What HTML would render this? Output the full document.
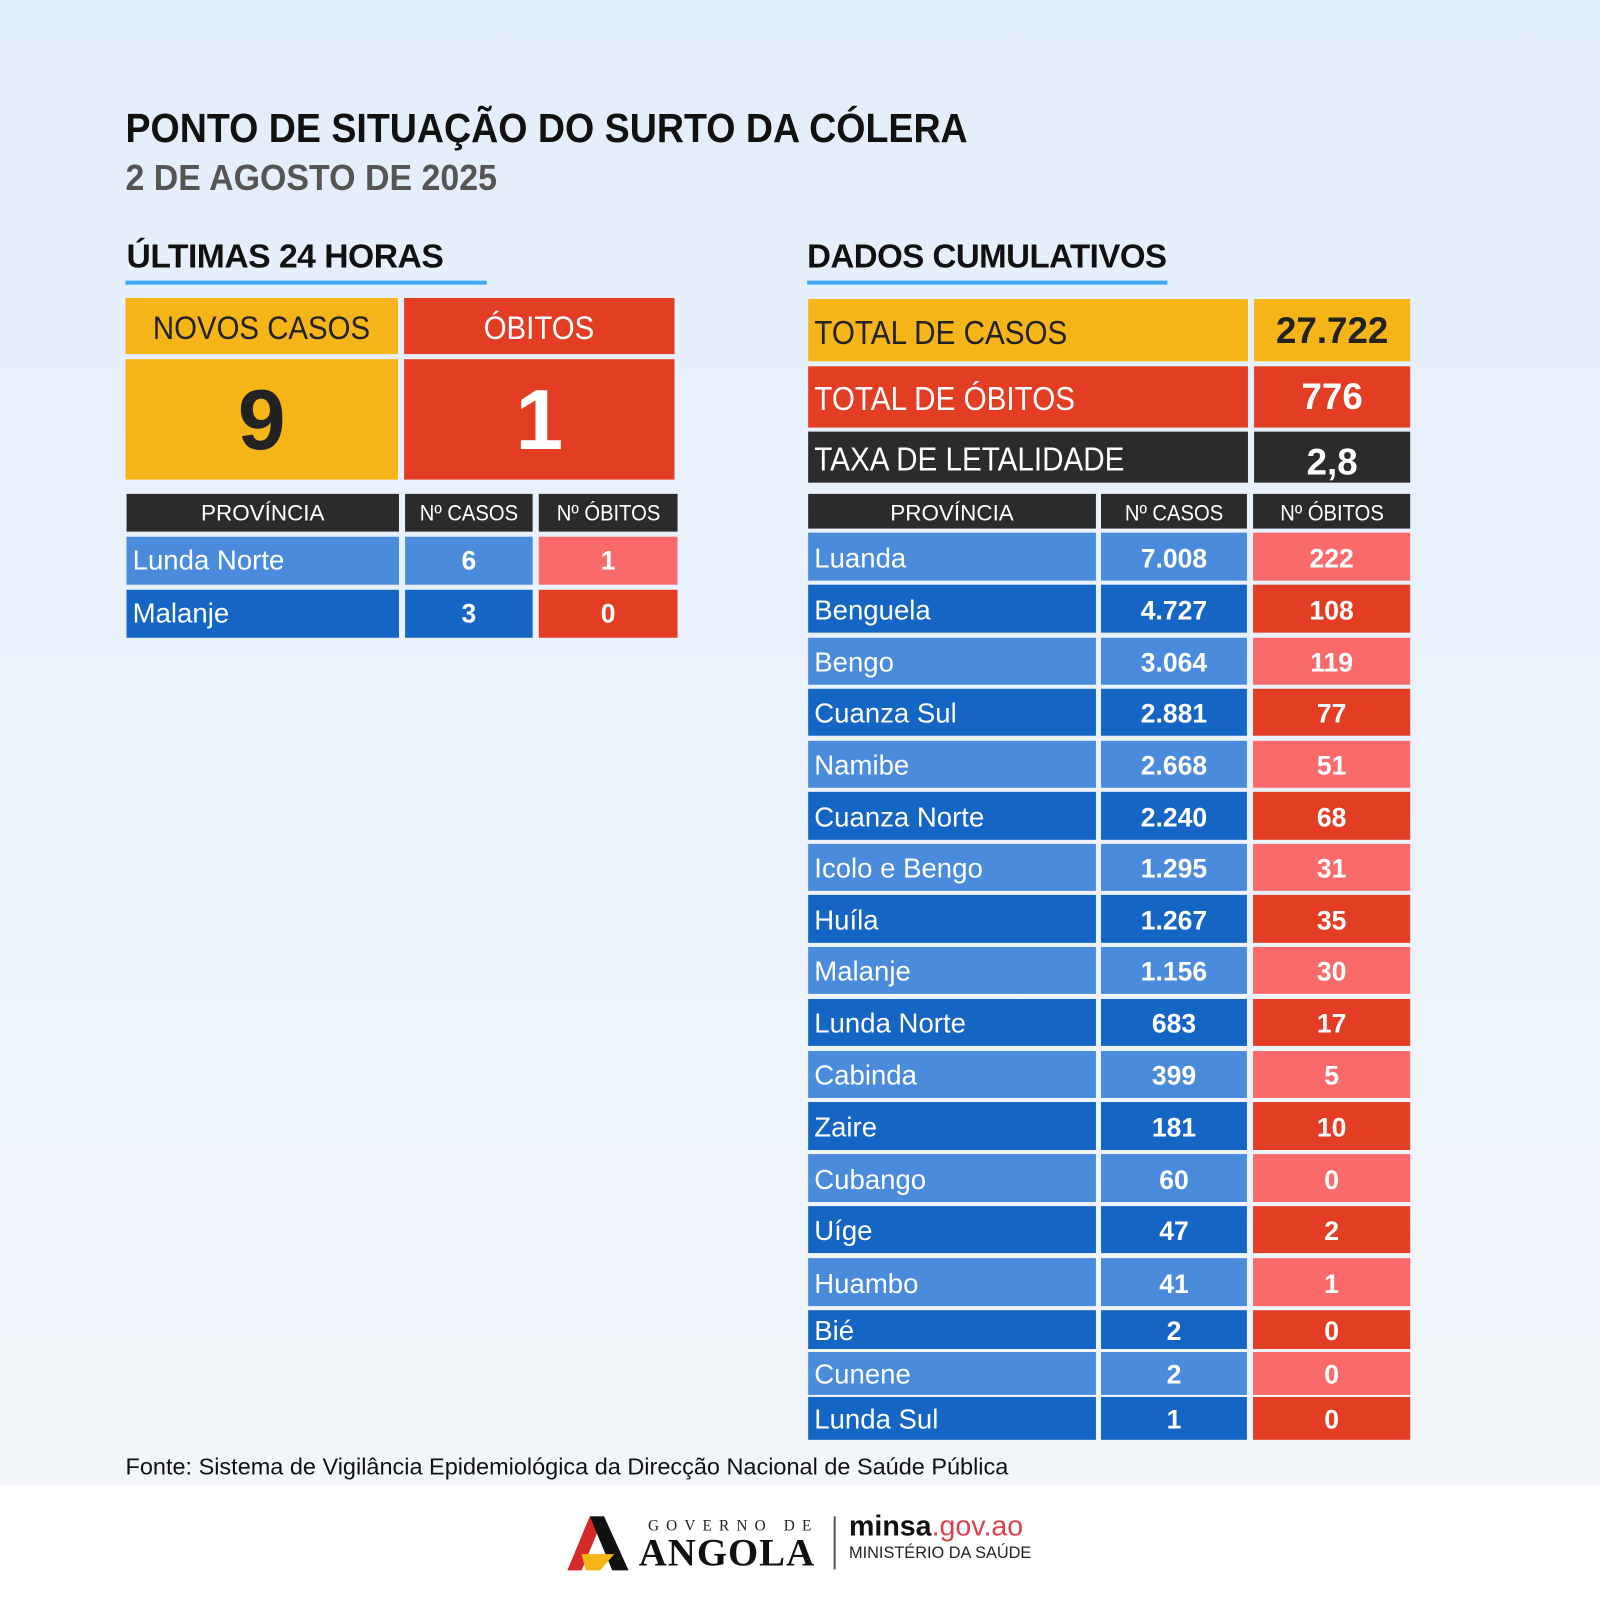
<!DOCTYPE html>
<html><head><meta charset="utf-8"><style>
html,body{margin:0;padding:0;}
body{width:1600px;height:1600px;overflow:hidden;background:#fff;}
#s{position:absolute;left:0;top:0;width:1568px;height:1568px;transform:scale(1.020408);transform-origin:0 0;
background:linear-gradient(180deg,#e3eefb 0%,#eaf2fc 45%,#f2f6fb 92%);font-family:"Liberation Sans Narrow","Liberation Sans",sans-serif;}
.a{position:absolute;box-sizing:border-box;}
.c{display:flex;align-items:center;justify-content:center;color:#fff;}
.l{display:flex;align-items:center;padding-left:6px;color:#fff;}
.b{font-weight:bold;}
.n{display:inline-block;transform:scaleX(0.88);transform-origin:0 50%;white-space:nowrap;}
.nc{display:inline-block;transform:scaleX(0.9);transform-origin:50% 50%;white-space:nowrap;}
</style></head><body><div id="s">
<div class="a" style="left:0;top:1455px;width:1568px;height:113px;background:#fff"></div>
<div class="a b" style="left:123px;top:104px;font-size:40px;color:#111;font-family:'Liberation Sans',sans-serif;transform:scaleX(0.92);transform-origin:0 0;white-space:nowrap">PONTO DE SITUAÇÃO DO SURTO DA CÓLERA</div>
<div class="a b" style="left:123px;top:155px;font-size:35px;color:#555;font-family:'Liberation Sans',sans-serif;transform:scaleX(0.95);transform-origin:0 0;white-space:nowrap">2 DE AGOSTO DE 2025</div>
<div class="a b" style="left:124px;top:232px;font-size:33px;color:#111;font-family:'Liberation Sans',sans-serif;letter-spacing:-0.5px">ÚLTIMAS 24 HORAS</div>
<div class="a" style="left:123px;top:275px;width:354px;height:4px;background:#3fa9f5"></div>
<div class="a b" style="left:791px;top:232px;font-size:33px;color:#111;font-family:'Liberation Sans',sans-serif;letter-spacing:-0.5px;transform:scaleX(0.98);transform-origin:0 0">DADOS CUMULATIVOS</div>
<div class="a" style="left:791px;top:275px;width:353px;height:4px;background:#3fa9f5"></div>

<div class="a c" style="left:123px;top:292px;width:267px;height:55px;background:#f5b418;color:#222;font-size:32px;padding-top:4px"><span class="nc">NOVOS CASOS</span></div>
<div class="a c" style="left:396px;top:292px;width:265px;height:55px;background:#e33d24;font-size:32px;padding-top:4px"><span class="nc">ÓBITOS</span></div>
<div class="a c b" style="left:123px;top:352px;width:267px;height:118px;background:#f5b418;color:#222;font-size:84px;font-family:'Liberation Sans',sans-serif">9</div>
<div class="a c b" style="left:396px;top:352px;width:265px;height:118px;background:#e33d24;font-size:84px;font-family:'Liberation Sans',sans-serif">1</div>

<div class="a c" style="left:124px;top:484px;width:267px;height:37px;background:#2b2b2b;font-size:22px">PROVÍNCIA</div>
<div class="a c" style="left:397px;top:484px;width:125px;height:37px;background:#2b2b2b;font-size:22px"><span class="nc">Nº CASOS</span></div>
<div class="a c" style="left:528px;top:484px;width:136px;height:37px;background:#2b2b2b;font-size:22px"><span class="nc">Nº ÓBITOS</span></div>
<div class="a l" style="left:124px;top:526px;width:267px;height:47px;background:#4a8bdc;font-size:27px">Lunda Norte</div>
<div class="a c b" style="left:397px;top:526px;width:125px;height:47px;background:#4a8bdc;font-size:26px">6</div>
<div class="a c b" style="left:528px;top:526px;width:136px;height:47px;background:#fb6a6a;font-size:26px">1</div>
<div class="a l" style="left:124px;top:578px;width:267px;height:47px;background:#1565c4;font-size:27px">Malanje</div>
<div class="a c b" style="left:397px;top:578px;width:125px;height:47px;background:#1565c4;font-size:26px">3</div>
<div class="a c b" style="left:528px;top:578px;width:136px;height:47px;background:#e33d24;font-size:26px">0</div>

<div class="a l" style="left:792px;top:293px;width:431px;height:61px;background:#f5b418;color:#222;font-size:33px;padding-top:4px"><span class="n">TOTAL DE CASOS</span></div>
<div class="a c b" style="left:1229px;top:293px;width:153px;height:61px;background:#f5b418;color:#222;font-size:36px;font-family:'Liberation Sans',sans-serif">27.722</div>
<div class="a l" style="left:792px;top:359px;width:431px;height:60px;background:#e33d24;font-size:33px;padding-top:4px"><span class="n">TOTAL DE ÓBITOS</span></div>
<div class="a c b" style="left:1229px;top:359px;width:153px;height:60px;background:#e33d24;font-size:36px;font-family:'Liberation Sans',sans-serif">776</div>
<div class="a l" style="left:792px;top:423px;width:431px;height:50px;background:#2b2b2b;font-size:33px;padding-top:4px"><span class="n">TAXA DE LETALIDADE</span></div>
<div class="a c b" style="left:1229px;top:423px;width:153px;height:50px;background:#2b2b2b;font-size:36px;font-family:'Liberation Sans',sans-serif;padding-top:10px">2,8</div>

<div class="a c" style="left:792px;top:484px;width:282px;height:34px;background:#2b2b2b;font-size:22px;padding-top:4px">PROVÍNCIA</div>
<div class="a c" style="left:1079px;top:484px;width:143px;height:34px;background:#2b2b2b;font-size:22px;padding-top:4px"><span class="nc">Nº CASOS</span></div>
<div class="a c" style="left:1228px;top:484px;width:154px;height:34px;background:#2b2b2b;font-size:22px;padding-top:4px"><span class="nc">Nº ÓBITOS</span></div>

<div id="rows"></div>
<div class="a" style="left:123px;top:1424px;font-size:23px;color:#111;font-family:'Liberation Sans',sans-serif;white-space:nowrap">Fonte: Sistema de Vigilância Epidemiológica da Direcção Nacional de Saúde Pública</div>

<svg class="a" style="left:556px;top:1483px" width="60" height="57" viewBox="0 0 60 57"><polygon points="0,56 22,3 36,3 14,56" fill="#d42a2a"/><polygon points="22,3 36,3 60,56 44,56" fill="#111"/><polygon points="14,40 46,40 32,56 18,56" fill="#f5b418"/></svg>
<div class="a" style="left:635px;top:1488px;font-size:15px;letter-spacing:7px;color:#222;font-family:'Liberation Serif',serif">GOVERNO DE</div>
<div class="a b" style="left:626px;top:1500px;font-size:38px;color:#111;font-family:'Liberation Serif',serif;letter-spacing:1px">ANGOLA</div>
<div class="a" style="left:817px;top:1486px;width:2px;height:52px;background:#555"></div>
<div class="a" style="left:832px;top:1480px;font-size:28px;font-family:'Liberation Sans',sans-serif"><b style="color:#111">minsa</b><span style="color:#d9434a">.gov.ao</span></div>
<div class="a" style="left:832px;top:1514px;font-size:16px;color:#222;font-family:'Liberation Sans',sans-serif">MINISTÉRIO DA SAÚDE</div>
</div>
<script>
var d=[["Luanda","7.008","222",522,569],["Benguela","4.727","108",573,620],["Bengo","3.064","119",625,671],["Cuanza Sul","2.881","77",675,721],["Namibe","2.668","51",726,772],["Cuanza Norte","2.240","68",776,823],["Icolo e Bengo","1.295","31",827,873],["Huíla","1.267","35",877,924],["Malanje","1.156","30",928,974],["Lunda Norte","683","17",979,1025],["Cabinda","399","5",1030,1076],["Zaire","181","10",1080,1127],["Cubango","60","0",1131,1178],["Uíge","47","2",1182,1228],["Huambo","41","1",1233,1280],["Bié","2","0",1284,1322],["Cunene","2","0",1325,1367],["Lunda Sul","1","0",1369,1411]];
var h="";
d.forEach(function(r,i){var lt=i%2==0,bl=lt?"#4a8bdc":"#1565c4",rd=lt?"#fb6a6a":"#e33d24",t=r[3],hh=r[4]-r[3];
h+='<div class="a l" style="left:792px;top:'+t+'px;width:282px;height:'+hh+'px;background:'+bl+';font-size:27px;padding-top:3px">'+r[0]+'</div>';
h+='<div class="a c b" style="left:1079px;top:'+t+'px;width:143px;height:'+hh+'px;background:'+bl+';font-size:26px;padding-top:3px">'+r[1]+'</div>';
h+='<div class="a c b" style="left:1228px;top:'+t+'px;width:154px;height:'+hh+'px;background:'+rd+';font-size:26px;padding-top:3px">'+r[2]+'</div>';});
document.getElementById("rows").innerHTML=h;
</script>
</body></html>
